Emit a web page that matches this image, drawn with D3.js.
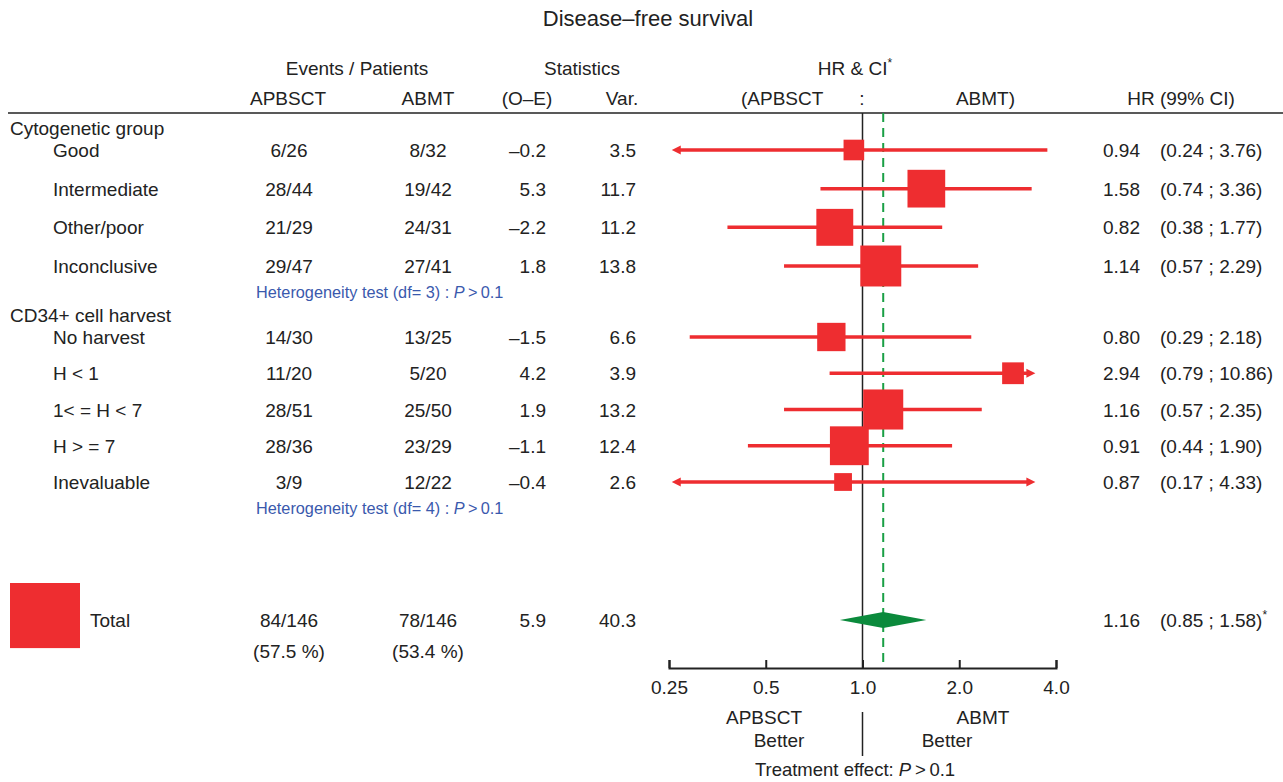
<!DOCTYPE html>
<html>
<head>
<meta charset="utf-8">
<script src="https://cdn.jsdelivr.net/npm/d3@7"></script>
<style>
  body { margin: 0; background: #fff; }
  svg { font-family: "Liberation Sans", Arial, sans-serif; }
</style>
</head>
<body>
<svg id="chart" width="1283" height="782"></svg>
<script>
// rows of the two subgroup blocks
const groupNames = ["Cytogenetic group", "CD34+ cell harvest"]
const groupOf = [0, 0, 0, 0, 1, 1, 1, 1, 1]
const rowLabels = ["Good", "Intermediate", "Other/poor", "Inconclusive",
  "No harvest", "H < 1", "1< = H < 7", "H > = 7", "Inevaluable"]
const eventsApbsct = ["6/26", "28/44", "21/29", "29/47", "14/30", "11/20", "28/51", "28/36", "3/9"]
const eventsAbmt = ["8/32", "19/42", "24/31", "27/41", "13/25", "5/20", "25/50", "23/29", "12/22"]
const oMinusE = [-0.2, 5.3, -2.2, 1.8, -1.5, 4.2, 1.9, -1.1, -0.4]
const variance = [3.5, 11.7, 11.2, 13.8, 6.6, 3.9, 13.2, 12.4, 2.6]
const hr = [0.94, 1.58, 0.82, 1.14, 0.80, 2.94, 1.16, 0.91, 0.87]
const ciLow = [0.24, 0.74, 0.38, 0.57, 0.29, 0.79, 0.57, 0.44, 0.17]
const ciHigh = [3.76, 3.36, 1.77, 2.29, 2.18, 10.86, 2.35, 1.90, 4.33]
const heterogeneity = ["Heterogeneity test (df= 3) : ", "Heterogeneity test (df= 4) : "]

// overall
const total = { apbsct: "84/146", abmt: "78/146", pctApbsct: "(57.5 %)", pctAbmt: "(53.4 %)",
  oMinusE: 5.9, variance: 40.3, hr: 1.16, lo: 0.85, hi: 1.58 }

const tickValues = [0.25, 0.5, 1, 2, 4]
const tickLabels = ["0.25", "0.5", "1.0", "2.0", "4.0"]
const arrowLimits = [0.255, 3.45] // where the arrow tip sits when a CI runs off the axis

const red = "#ee2d30"
const green = "#0b8a3c"
const ink = "#222"
const fs = 19

const svg = d3.select("#chart")

const x = d3.scaleLog().domain([0.25, 4]).range([669, 1056])
const side = d3.scaleSqrt().domain([0, 40.3]).range([0, 70])
// vertical slots for each block
const yGroup = [
  d3.scalePoint().domain(d3.range(4)).range([150, 266]),
  d3.scalePoint().domain(d3.range(5)).range([337, 482])
]
const rows = rowLabels.map((label, i) => {
  const g = groupOf[i]
  const k = groupOf.slice(0, i).filter(v => v === g).length
  return { label, i, y: yGroup[g](k) }
})

const fmt1 = v => (v < 0 ? "\u2013" + Math.abs(v).toFixed(1) : v.toFixed(1))
const fmt2 = d3.format(".2f")

function txt(x0, y0, s, anchor = "start", size = fs, color = ink) {
  return svg.append("text").attr("x", x0).attr("y", y0)
    .attr("text-anchor", anchor).attr("font-size", size).attr("fill", color).text(s)
}

// title & headers
txt(648, 26, "Disease\u2013free survival", "middle", 22)
txt(357, 75, "Events / Patients", "middle")
txt(582, 75, "Statistics", "middle")
const hc = txt(855, 75, "HR & CI", "middle")
hc.append("tspan").attr("dy", -8).attr("font-size", 12).text("*")
txt(288, 105, "APBSCT", "middle")
txt(428, 105, "ABMT", "middle")
txt(527, 105, "(O\u2013E)", "middle")
txt(622, 105, "Var.", "middle")
txt(741, 105, "(APBSCT")
txt(862, 105, ":", "middle")
txt(1015, 105, "ABMT)", "end")
txt(1181, 105, "HR (99% CI)", "middle")

svg.append("line").attr("x1", 8).attr("x2", 1283).attr("y1", 113).attr("y2", 113)
  .attr("stroke", ink).attr("stroke-width", 1.5)

// group titles and heterogeneity notes
groupNames.forEach((name, g) => {
  const first = yGroup[g].range()[0], last = yGroup[g].range()[1]
  txt(10, first - 22 + 7, name)
  const t = txt(256, last + 26 + 6, heterogeneity[g], "start", 16.3, "#3a59ad")
  t.append("tspan").attr("font-style", "italic").text("P")
  t.append("tspan").text("\u2009>\u20090.1")
})

// reference lines
svg.append("line").attr("x1", x(1)).attr("x2", x(1)).attr("y1", 113).attr("y2", 668)
  .attr("stroke", ink).attr("stroke-width", 1.5)
svg.append("line").attr("x1", x(total.hr)).attr("x2", x(total.hr)).attr("y1", 113).attr("y2", 668)
  .attr("stroke", "#1a9f45").attr("stroke-width", 2).attr("stroke-dasharray", "9,6")

// table rows
const row = svg.append("g").selectAll("g").data(rows).join("g")
  .attr("font-size", fs).attr("fill", ink)
row.append("text").attr("x", 53).attr("y", d => d.y + 7).text(d => d.label)
row.append("text").attr("x", 289).attr("y", d => d.y + 7).attr("text-anchor", "middle").text(d => eventsApbsct[d.i])
row.append("text").attr("x", 428).attr("y", d => d.y + 7).attr("text-anchor", "middle").text(d => eventsAbmt[d.i])
row.append("text").attr("x", 546).attr("y", d => d.y + 7).attr("text-anchor", "end").text(d => fmt1(oMinusE[d.i]))
row.append("text").attr("x", 636).attr("y", d => d.y + 7).attr("text-anchor", "end").text(d => variance[d.i].toFixed(1))
row.append("text").attr("x", 1140).attr("y", d => d.y + 7).attr("text-anchor", "end").text(d => fmt2(hr[d.i]))
row.append("text").attr("x", 1160).attr("y", d => d.y + 7)
  .text(d => "(" + fmt2(ciLow[d.i]) + " ; " + fmt2(ciHigh[d.i]) + ")")

// CI lines, with arrows where they run off the axis
const [dMin, dMax] = x.domain()
row.each(function (d) {
  const g = d3.select(this)
  const cutLo = ciLow[d.i] < dMin, cutHi = ciHigh[d.i] > dMax
  const x0 = x(cutLo ? arrowLimits[0] : ciLow[d.i])
  const x1 = x(cutHi ? arrowLimits[1] : ciHigh[d.i])
  g.append("line").attr("x1", cutLo ? x0 + 6 : x0).attr("x2", cutHi ? x1 - 6 : x1)
    .attr("y1", d.y).attr("y2", d.y).attr("stroke", red).attr("stroke-width", 3.5)
  if (cutLo) g.append("path").attr("d", `M${x0},${d.y}l9,-4.5v9z`).attr("fill", red)
  if (cutHi) g.append("path").attr("d", `M${x1},${d.y}l-9,-4.5v9z`).attr("fill", red)
  const s = side(variance[d.i])
  g.append("rect").attr("x", x(hr[d.i]) - s / 2).attr("y", d.y - s / 2)
    .attr("width", s).attr("height", s).attr("fill", red)
})

// total row
const ty = 620
const ts = side(total.variance)
svg.append("rect").attr("x", 45 - ts / 2).attr("y", ty - 2 - ts / 2).attr("width", ts).attr("height", ts * 0.93).attr("fill", red)
txt(90, ty + 7, "Total")
txt(289, ty + 7, total.apbsct, "middle")
txt(428, ty + 7, total.abmt, "middle")
txt(546, ty + 7, fmt1(total.oMinusE), "end")
txt(636, ty + 7, total.variance.toFixed(1), "end")
txt(289, ty + 38, total.pctApbsct, "middle")
txt(428, ty + 38, total.pctAbmt, "middle")
txt(1140, ty + 7, fmt2(total.hr), "end")
const tci = txt(1160, ty + 7, "(" + fmt2(total.lo) + " ; " + fmt2(total.hi) + ")")
tci.append("tspan").attr("dy", -8).attr("font-size", 12).text("*")
svg.append("path")
  .attr("d", `M${x(total.lo)},${ty}L${x(total.hr)},${ty - 8}L${x(total.hi)},${ty}L${x(total.hr)},${ty + 8}Z`)
  .attr("fill", green)

// axis
const axis = svg.append("g").attr("transform", "translate(0,668)")
  .call(d3.axisBottom(x).tickValues(tickValues).tickFormat((d, i) => tickLabels[i])
    .tickSizeInner(-8).tickSizeOuter(-8))
axis.select(".domain").attr("stroke", ink).attr("stroke-width", 2)
axis.selectAll(".tick line").attr("stroke", ink).attr("stroke-width", 2)
axis.selectAll(".tick text").attr("y", 13).attr("dy", "0.71em")
  .attr("font-size", fs).attr("fill", ink).attr("font-family", "Liberation Sans, Arial, sans-serif")

// favour labels
txt(764, 724, "APBSCT", "middle")
txt(779, 747, "Better", "middle")
txt(983, 724, "ABMT", "middle")
txt(947, 747, "Better", "middle")
svg.append("line").attr("x1", x(1)).attr("x2", x(1)).attr("y1", 712).attr("y2", 756)
  .attr("stroke", ink).attr("stroke-width", 1.5)
const te = txt(855, 776, "Treatment effect: ", "middle", 18.5)
te.append("tspan").attr("font-style", "italic").text("P")
te.append("tspan").text("\u2009>\u20090.1")
</script>
</body>
</html>
